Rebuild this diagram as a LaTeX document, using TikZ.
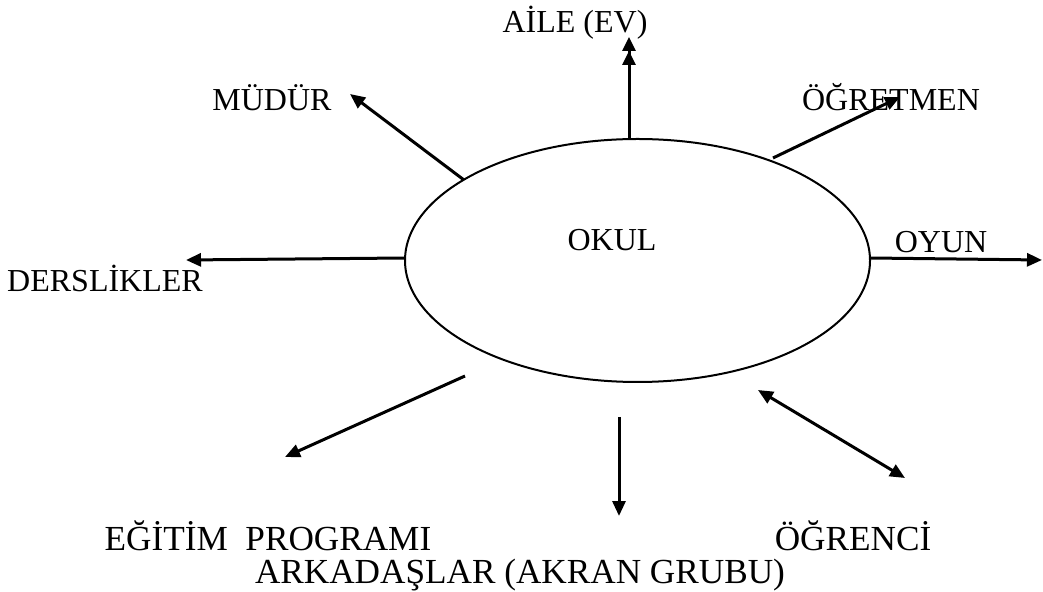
\documentclass[tikz,border=0pt]{standalone}
\usepackage{fontspec}
\setmainfont{Liberation Serif}
\usetikzlibrary{arrows.meta,shapes.geometric}

\tikzset{
  lbl/.style={inner sep=0pt, anchor=base, font=\fontsize{16}{19}\selectfont},
  lowlbl/.style={lbl, font=\fontsize{17.6}{20}\selectfont},
  link/.style={line width=1.5pt, -{Triangle[length=7.5pt,width=6.5pt]}},
  twolink/.style={line width=1.5pt, {Triangle[length=7.5pt,width=6.5pt]}-{Triangle[length=7.5pt,width=6.5pt]}},
  doublehead/.style={line width=1.5pt, -{Triangle[length=7pt,width=6.5pt]Triangle[length=7pt,width=6.5pt]}},
  hub/.style={ellipse, draw, line width=1pt, minimum width=232.5pt, minimum height=121.5pt, inner sep=0pt}
}

\begin{document}
\begin{tikzpicture}[x=0.5pt,y=-0.5pt]
  \useasboundingbox (0,0) rectangle (1043,592);

  % central ellipse and its label
  \node[hub] (okulbox) at (637.5,260.5) {};
  \node[lbl] (okul) at (612,251) {OKUL};

  % surrounding labels
  \node[lbl] (aile)    at (575,33)  {AİLE (EV)};
  \node[lbl] (mudur)   at (272,111) {MÜDÜR};
  \node[lbl] (ogretmen) at (891,111) {ÖĞRETMEN};
  \node[lbl] (oyun)    at (941,253) {OYUN};
  \node[lbl] (derslik) at (105,292) {DERSLİKLER};
  \node[lowlbl] (egitim)  at (268,550) {EĞİTİM\ \ PROGRAMI};
  \node[lowlbl] (ogrenci) at (853,550) {ÖĞRENCİ};
  \node[lowlbl] (arkadas) at (520,583) {ARKADAŞLAR (AKRAN GRUBU)};

  % arrow end points
  \coordinate (aileS) at (629,139);   \coordinate (aileE) at (629,37);
  \coordinate (mudS)  at (464,180);   \coordinate (mudE)  at (350,94);
  \coordinate (ogrS)  at (773,158);   \coordinate (ogrE)  at (900,97);
  \coordinate (oyuS)  at (870,258);   \coordinate (oyuE)  at (1042,260);
  \coordinate (derS)  at (405,258);   \coordinate (derE)  at (186,260);
  \coordinate (egiS)  at (465,376);   \coordinate (egiE)  at (285,457);
  \coordinate (arkS)  at (619,417);   \coordinate (arkE)  at (619,516);
  \coordinate (ogcS)  at (758,390);   \coordinate (ogcE)  at (905,478);

  % connectors
  \draw[doublehead] (aileS) -- (aileE);
  \draw[link] (mudS) -- (mudE);
  \draw[link] (ogrS) -- (ogrE);
  \draw[link] (oyuS) -- (oyuE);
  \draw[link] (derS) -- (derE);
  \draw[link] (egiS) -- (egiE);
  \draw[link] (arkS) -- (arkE);
  \draw[twolink] (ogcS) -- (ogcE);
\end{tikzpicture}
\end{document}
